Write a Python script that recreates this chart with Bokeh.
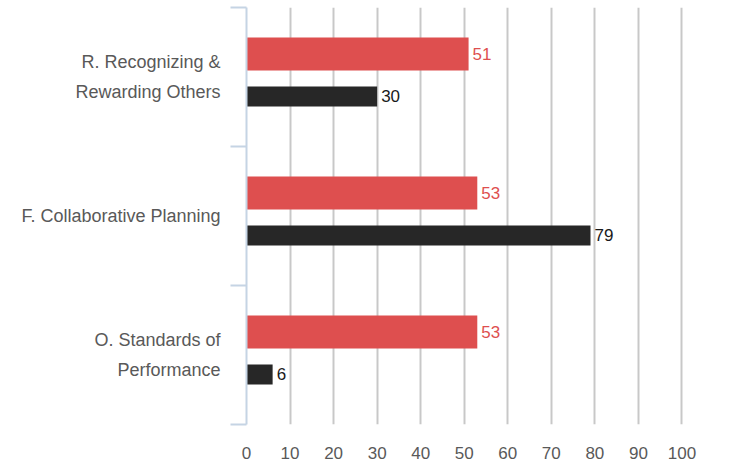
from bokeh.plotting import figure
from bokeh.models import FixedTicker, Range1d
from bokeh.core.properties import value
from bokeh.embed import file_html
from bokeh.resources import INLINE

categories = ["R. Recognizing &\nRewarding Others", "F. Collaborative Planning", "O. Standards of\nPerformance"]
red_values = [51, 53, 53]
black_values = [30, 79, 6]
x_ticks = [0, 10, 20, 30, 40, 50, 60, 70, 80, 90, 100]

RED = "#de4f4f"
BLACK = "#272727"
GRAY_TXT = "#595959"
FONT = "Liberation Sans"

n = len(categories)
centers = [n - i - 0.5 for i in range(n)]
red_y = [c + 0.165 for c in centers]
black_y = [c - 0.14 for c in centers]

p = figure(width=735, height=463, x_range=Range1d(0, 110), y_range=Range1d(0, n),
           output_backend="svg", toolbar_location=None,
           min_border_left=246, min_border_right=10, min_border_top=7, min_border_bottom=39)
p.outline_line_color = None
p.background_fill_color = "white"
p.border_fill_color = "white"

p.hbar(y=red_y, left=0, right=red_values, height=0.237, fill_color=RED, line_color=None)
p.hbar(y=black_y, left=0, right=black_values, height=0.144, fill_color=BLACK, line_color=None)

p.text(x=red_values, y=red_y, text=[str(v) for v in red_values], x_offset=4,
       text_baseline="middle", text_align="left", text_font=value(FONT),
       text_font_size="17px", text_color=RED)
p.text(x=black_values, y=black_y, text=[str(v) for v in black_values], x_offset=4,
       text_baseline="middle", text_align="left", text_font=value(FONT),
       text_font_size="17px", text_color="#1a1a1a")

# x axis
grid_ticks = x_ticks + [110]
p.xaxis.ticker = FixedTicker(ticks=grid_ticks)
p.xaxis.major_label_overrides = {110: ""}
p.xaxis.axis_line_color = None
p.xaxis.major_tick_line_color = None
p.xaxis.minor_tick_line_color = None
p.xaxis.major_label_text_color = GRAY_TXT
p.xaxis.major_label_text_font = FONT
p.xaxis.major_label_text_font_size = "17px"
p.xaxis.major_label_standoff = 16
p.xgrid.grid_line_color = "#c8c8c8"
p.xgrid.grid_line_width = 2

# y axis
p.ygrid.visible = False
p.yaxis.ticker = FixedTicker(ticks=centers, minor_ticks=list(range(n + 1)))
p.yaxis.major_label_overrides = {c: lab for c, lab in zip(centers, categories)}
p.yaxis.axis_line_color = "#c5d4e4"
p.yaxis.axis_line_width = 2
p.yaxis.major_tick_line_color = None
p.yaxis.major_tick_out = 0
p.yaxis.major_tick_in = 0
p.yaxis.minor_tick_line_color = "#c5d4e4"
p.yaxis.minor_tick_line_width = 2
p.yaxis.minor_tick_out = 16
p.yaxis.minor_tick_in = 0
p.yaxis.major_label_text_color = GRAY_TXT
p.yaxis.major_label_text_font = FONT
p.yaxis.major_label_text_font_size = "18px"
p.yaxis.major_label_text_line_height = 1.5
p.yaxis.major_label_standoff = 10

open("out.html", "w").write(file_html(p, INLINE))
